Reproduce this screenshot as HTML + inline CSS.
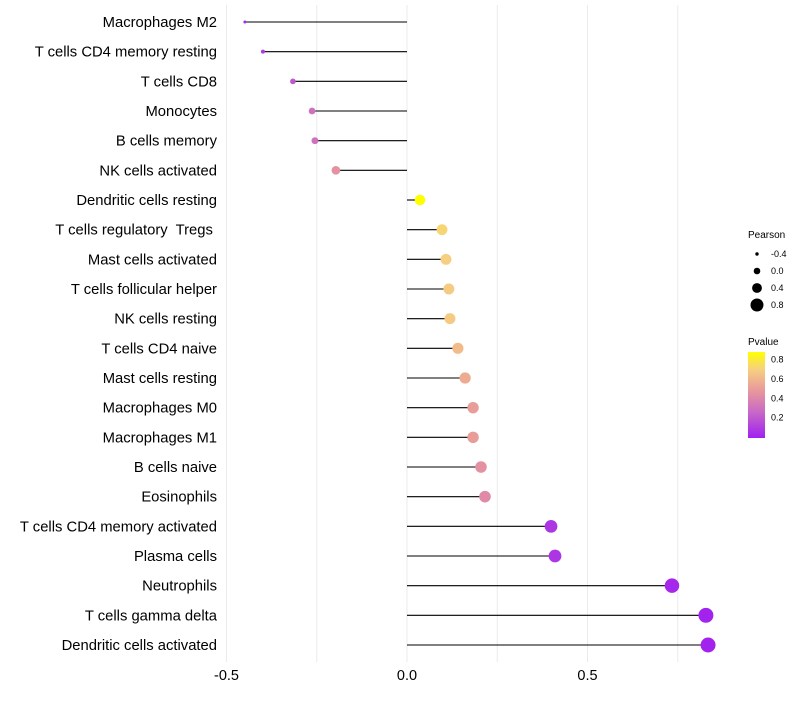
<!DOCTYPE html>
<html><head><meta charset="utf-8"><style>
body{margin:0;background:#fff;font-family:"Liberation Sans",sans-serif}
text{white-space:pre}
</style></head><body>
<svg id="c" width="800" height="700" xmlns="http://www.w3.org/2000/svg">
<defs><linearGradient id="pg" x1="0" y1="1" x2="0" y2="0">
<stop offset="0" stop-color="#A020F0"/><stop offset="0.3" stop-color="#C868C8"/><stop offset="0.55" stop-color="#E8989C"/><stop offset="0.8" stop-color="#F6D080"/><stop offset="1" stop-color="#FFFF00"/></linearGradient></defs>
<g id="grid"></g><g id="marks"></g><g id="ylab"></g><g id="xlab"></g>
<g font-size="9" fill="#000">
<text x="748" y="238" font-size="10">Pearson</text>
<g id="sizeleg"></g>
<text x="748" y="345" font-size="10">Pvalue</text>
<rect x="748" y="352" width="17" height="86" fill="url(#pg)"/>
<g id="colleg"></g>
</g>
</svg>
<script>
const categories=["Macrophages M2","T cells CD4 memory resting","T cells CD8","Monocytes","B cells memory","NK cells activated","Dendritic cells resting","T cells regulatory  Tregs ","Mast cells activated","T cells follicular helper","NK cells resting","T cells CD4 naive","Mast cells resting","Macrophages M0","Macrophages M1","B cells naive","Eosinophils","T cells CD4 memory activated","Plasma cells","Neutrophils","T cells gamma delta","Dendritic cells activated"];
const pearson=[-0.449,-0.399,-0.316,-0.263,-0.255,-0.197,0.036,0.097,0.108,0.116,0.119,0.141,0.161,0.183,0.183,0.205,0.216,0.399,0.41,0.734,0.828,0.834];
const pvalue=[0.04,0.1,0.2,0.3,0.3,0.45,0.88,0.72,0.7,0.68,0.68,0.62,0.56,0.5,0.5,0.45,0.42,0.08,0.08,0.03,0.01,0.01];
const xTicks=[-0.5,0,0.5];
const xMinor=[-0.25,0.25,0.75];
const sizeLegend=[-0.4,0,0.4,0.8];
const colLegend=[0.2,0.4,0.6,0.8];
const NS="http://www.w3.org/2000/svg";
const xS=v=>407+v*361;
const yS=i=>22+i*(623/21);
const rS=v=>v<-0.2?Math.max(1.2,1.5+(v+0.45)*10):Math.sqrt(26+36*v);
const rL=v=>1.7+(v+0.4)*4;
const stops=[[0,[160,32,240]],[0.26,[200,104,200]],[0.48,[232,152,156]],[0.7,[246,208,128]],[0.88,[255,255,0]]];
function col(p){p=Math.max(0,Math.min(0.88,p));for(let k=1;k<stops.length;k++){if(p<=stops[k][0]){const a=stops[k-1],b=stops[k],t=(p-a[0])/(b[0]-a[0]);return 'rgb('+a[1].map((c,j)=>Math.round(c+(b[1][j]-c)*t)).join(',')+')';}}return 'rgb(255,255,0)';}
function mk(tag,at,par){const e=document.createElementNS(NS,tag);for(const k in at)e.setAttribute(k,at[k]);document.getElementById(par).appendChild(e);return e;}
xTicks.concat(xMinor).forEach(v=>{const l=mk('line',{x1:xS(v),x2:xS(v),y1:5,y2:662,stroke:'#ebebeb','stroke-width':1},'grid');

});
xTicks.forEach(v=>{const t=mk('text',{x:xS(v),y:680,'text-anchor':'middle','font-size':14.5,fill:'#000'},'xlab');t.textContent=v===0?'0.0':String(v);

});
categories.forEach((c,i)=>{const y=yS(i);
const l=mk('line',{x1:xS(0),x2:xS(pearson[i]),y1:y,y2:y,stroke:'#000','stroke-width':1.1},'marks');


const d=mk('circle',{cx:xS(pearson[i]),cy:y,r:rS(pearson[i]),fill:col(pvalue[i])},'marks');


const t=mk('text',{x:217,y:y+5,'text-anchor':'end','font-size':14.8,fill:'#000'},'ylab');t.textContent=c;

});
sizeLegend.forEach((v,k)=>{const y=254+k*17;
const d=mk('circle',{cx:757,cy:y,r:rL(v),fill:'#000'},'sizeleg');


const t=mk('text',{x:771,y:y+3,'font-size':9},'sizeleg');t.textContent=v.toFixed(1);

});
colLegend.forEach(v=>{const y=437-v*96.7;
const t=mk('text',{x:771,y:y+3,'font-size':9},'colleg');t.textContent=v.toFixed(1);

});
</script>
</body></html>
